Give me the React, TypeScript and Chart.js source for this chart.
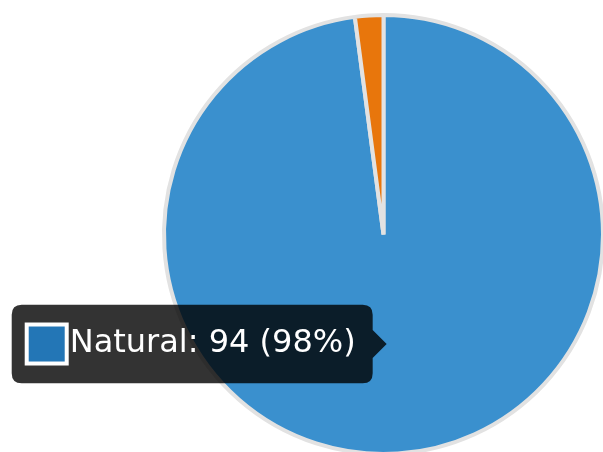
import React, { useEffect, useRef } from "react";
import { Chart, registerables } from "chart.js";

Chart.register(...registerables);

const categories = ["Natural", "Artificial"];
const values = [94, 2];
const sliceColors = ["#3a90ce", "#e8760c"];
const boxColors = ["#2376b6", "#e8760c"];

export default function App() {
  const ref = useRef<HTMLCanvasElement | null>(null);

  useEffect(() => {
    document.documentElement.style.overflow = "hidden";
    document.body.style.overflow = "hidden";
    const total = values.reduce((a, b) => a + b, 0);
    const chart = new Chart(ref.current as HTMLCanvasElement, {
      type: "pie",
      data: {
        labels: categories,
        datasets: [
          {
            data: values,
            backgroundColor: sliceColors,
            borderColor: "#e2e2e2",
            borderWidth: 4,
            hoverBackgroundColor: sliceColors,
            hoverBorderColor: "#e2e2e2",
            hoverOffset: 0,
          },
        ],
      },
      options: {
        animation: false,
        responsive: true,
        maintainAspectRatio: false,
        events: [],
        layout: { padding: { left: 162, right: 0, top: 13, bottom: 14 } },
        plugins: {
          legend: { display: false },
          tooltip: {
            enabled: true,
            backgroundColor: "rgba(0,0,0,0.8)",
            bodyColor: "#ffffff",
            bodyFont: { family: "'DejaVu Sans'", size: 32 },
            padding: { left: 16, right: 17, top: 20, bottom: 20 },
            cornerRadius: 10,
            caretSize: 14,
            caretPadding: 4,
            boxWidth: 38,
            boxHeight: 37,
            boxPadding: 2,
            displayColors: true,
            callbacks: {
              title: () => "",
              label: (ctx: any) => {
                const pct = Math.round((ctx.raw / total) * 100);
                return `${ctx.label}: ${ctx.raw} (${pct}%)`;
              },
              labelColor: (ctx: any) => ({
                borderColor: "#ffffff",
                backgroundColor: boxColors[ctx.dataIndex],
                borderWidth: 6,
              }),
            },
          },
        },
      },
    });
    chart.tooltip?.setActiveElements([{ datasetIndex: 0, index: 0 }], { x: 0, y: 0 });
    chart.update();
    return () => chart.destroy();
  }, []);

  return (
    <div style={{ position: "fixed", left: 0, top: 0, width: 605, height: 470 }}>
      <canvas ref={ref} />
    </div>
  );
}
